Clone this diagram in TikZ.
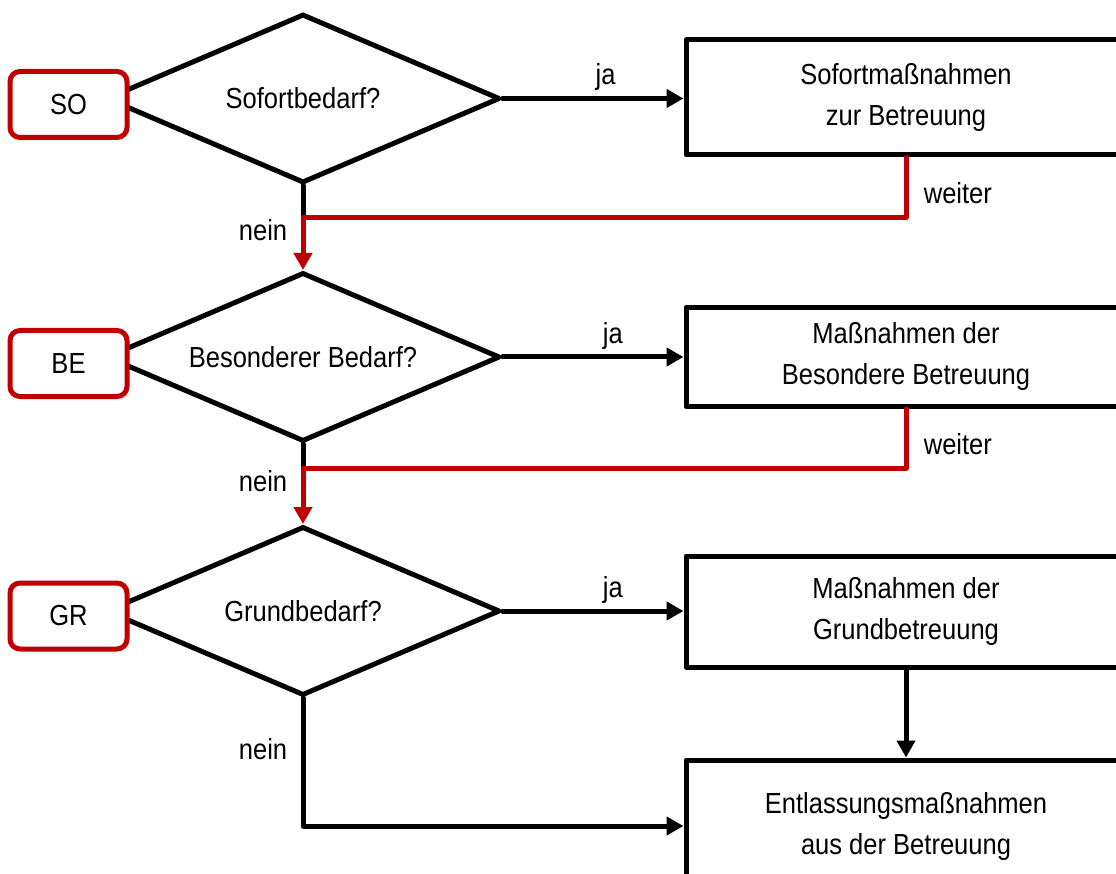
\documentclass[tikz,border=0pt]{standalone}
\usepackage{fontspec}
\setmainfont{Liberation Sans}[FakeStretch=0.88]
\usetikzlibrary{shapes.geometric,arrows.meta,positioning}
\definecolor{rot}{RGB}{192,0,0}
\begin{document}
\begin{tikzpicture}[x=1pt, y=-1pt, line cap=round, line join=round, line width=5pt, >={Triangle[length=17pt,width=18pt]}, font=\fontsize{29}{41}\selectfont]
	\tikzset{frage/.style={diamond, draw, fill=white, inner sep=0pt, aspect=2.33, minimum width=394pt, minimum height=169pt},
		kasten/.style={draw, fill=white, minimum width=440pt, align=center},
		stufe/.style={draw=rot, fill=white, rounded corners=10pt, minimum width=117pt, minimum height=66pt},
		marke/.style={text=black}}
	\useasboundingbox (0,0) rectangle (1116,874);
	\clip (0,0) rectangle (1116,874);
	% Fragen
	\node[frage] (so) at (303,98.5) {Sofortbedarf?};
	\node[frage] (be) at (303,357) {Besonderer Bedarf?};
	\node[frage] (gr) at (303,611) {Grundbedarf?};
	\foreach\n/\y in {SO/104.5,BE/363.5,GR/616} \node[stufe] (st\n) at (68.5,\y) {\n};
	% Massnahmen
	\node[kasten, minimum height=115pt] (sofort) at (906,97.5) {Sofortmaßnahmen\\zur Betreuung};
	\node[kasten, minimum height=99pt] (besonders) at (906,357) {Maßnahmen der\\Besondere Betreuung};
	\node[kasten, minimum height=111pt] (grund) at (906,611.5) {Maßnahmen der\\Grundbetreuung};
	\node[kasten, minimum height=132pt] (entlass) at (906,826) {Entlassungsmaßnahmen\\aus der Betreuung};
	\draw[->] (so.east) -- node[marke, pos=0.57, above=2pt]{ja} (so.east -| sofort.west);
	\draw[->] (be.east) -- node[marke, pos=0.61, above=2pt]{ja} (be.east -| besonders.west);
	\draw[->] (gr.east) -- node[marke, pos=0.61, above=2pt]{ja} (gr.east -| grund.west);
	\draw (so.south) -- ++(0,32);
	\draw (be.south) -- ++(0,27);
	\draw[rot,->] (sofort.south) -- node[marke, right=12pt, pos=0.6]{weiter} ++(0,60) -| node[marke, pos=0.62, left=10pt]{nein} (be.north);
	\draw[rot,->] (besonders.south) -- node[marke, right=12pt, pos=0.6]{weiter} ++(0,59) -| node[marke, pos=0.62, left=10pt]{nein} (gr.north);
	\draw[->] (gr.south) |- node[marke, pos=0.2, left=10pt]{nein} (entlass.west);
	\draw[->] (grund.south) -- (entlass.north);
\end{tikzpicture}
\end{document}
